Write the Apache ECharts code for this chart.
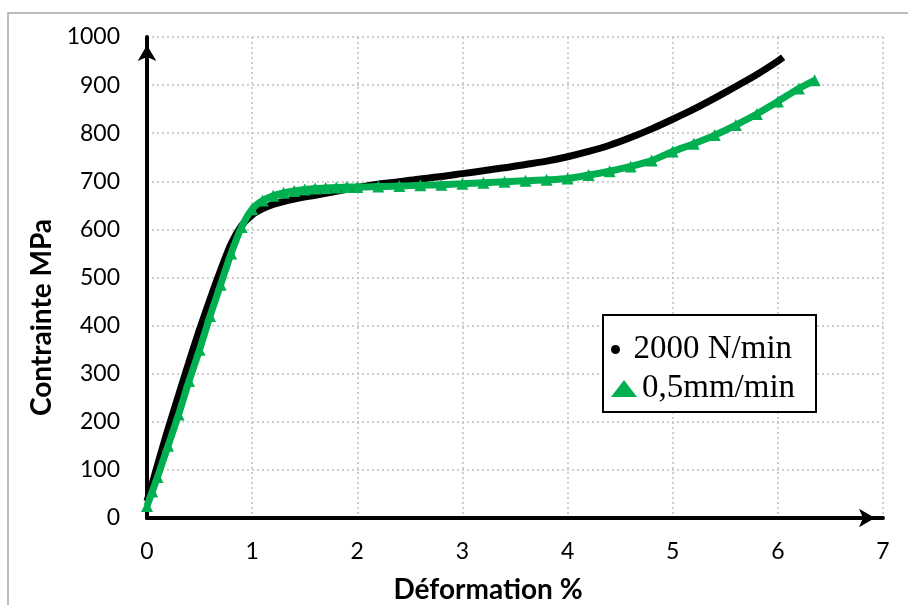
<!DOCTYPE html>
<html><head><meta charset="utf-8">
<script src="https://cdn.jsdelivr.net/npm/echarts@6/dist/echarts.min.js"></script>
<style>html,body{margin:0;padding:0;background:#fff}#c{width:908px;height:605px}</style>
</head><body><div id="c"></div>
<script>
const seriesNames = ['2000 N/min', '0,5mm/min'];
const xTitle = 'Déformation %';
const yTitle = 'Contrainte MPa';
const blackX = [0,0.05,0.1,0.2,0.3,0.4,0.5,0.6,0.7,0.8,0.9,1.0,1.1,1.2,1.4,1.6,1.8,2.0,2.2,2.4,2.6,2.8,3.0,3.2,3.4,3.6,3.8,4.0,4.2,4.4,4.6,4.8,5.0,5.2,5.4,5.6,5.8,6.0,6.05];
const blackY = [35,72,110,185,255,325,392,455,515,570,608,630,643,652,663,671,679,687,694,699,705,710,716,722,728,735,742,751,762,775,791,809,829,850,873,897,922,950,958];
const greenX = [0,0.05,0.1,0.2,0.3,0.4,0.5,0.6,0.7,0.8,0.9,1.0,1.1,1.2,1.3,1.4,1.5,1.6,1.7,1.8,1.9,2.0,2.2,2.4,2.6,2.8,3.0,3.2,3.4,3.6,3.8,4.0,4.2,4.4,4.6,4.8,5.0,5.2,5.4,5.6,5.8,6.0,6.2,6.35];
const greenY = [25,55,85,150,215,285,350,420,485,550,605,642,660,670,676,680,683,685,686,687,688,688,689,690,692,693,695,697,699,701,703,706,713,721,731,743,762,778,796,817,840,866,893,910];

const pair = (xs, ys) => xs.map((x, i) => [x, ys[i]]);
const chart = echarts.init(document.getElementById('c'));
const tickFont = {fontFamily: 'Lato', fontSize: 23, color: '#000'};
const titleFont = {fontFamily: 'Lato', fontSize: 28, fontWeight: 'bold', color: '#000'};
const legendText = {fontFamily: 'Liberation Serif', fontSize: 33, color: '#000'};
chart.setOption({
  backgroundColor: '#fff',
  animation: false,
  grid: {left: 147, right: 25, top: 37, bottom: 87, containLabel: false, outerBoundsMode: 'none'},
  graphic: [
    {type: 'rect', shape: {x: 8, y: 13, width: 920, height: 620}, style: {fill: 'none', stroke: '#a6a6a6', lineWidth: 1.5}, z: -10},
    {type: 'rect', shape: {x: 603, y: 315, width: 213, height: 97}, style: {fill: '#fff', stroke: '#000', lineWidth: 2}, z: 5}
  ],
  xAxis: {
    type: 'value', min: 0, max: 7, interval: 1,
    name: xTitle, nameLocation: 'middle', nameGap: 58, nameTextStyle: Object.assign({padding: [0, 54, 0, 0]}, titleFont),
    axisLine: {lineStyle: {color: '#000', width: 4}, symbol: ['none', 'arrow'], symbolSize: [14, 16], symbolOffset: [0, -8]},
    axisTick: {show: false},
    axisLabel: Object.assign({margin: 22, formatter: v => String(v)}, tickFont),
    splitLine: {show: true, lineStyle: {color: '#bfbfbf', type: [2, 3], width: 1.5}}
  },
  yAxis: {
    type: 'value', min: 0, max: 1000, interval: 100,
    name: yTitle, nameLocation: 'middle', nameGap: 80, nameTextStyle: Object.assign({padding: [0, 80, 0, 0]}, titleFont),
    axisLine: {show: true, lineStyle: {color: '#000', width: 4}, symbol: ['none', 'arrow'], symbolSize: [14, 16], symbolOffset: [0, -8]},
    axisTick: {show: false},
    axisLabel: Object.assign({margin: 27, formatter: v => String(v)}, tickFont),
    splitLine: {show: true, lineStyle: {color: '#bfbfbf', type: [2, 3], width: 1.5}}
  },
  legend: [
    {data: [{name: seriesNames[0], icon: 'circle'}], left: 606, top: 328, itemWidth: 26, itemHeight: 9, itemGap: 0, textStyle: legendText, z: 10, selectedMode: false},
    {data: [{name: seriesNames[1], icon: 'triangle'}], left: 606, top: 367, itemWidth: 26, itemHeight: 17, itemGap: 0, textStyle: legendText, z: 10, selectedMode: false}
  ],
  series: [
    {name: seriesNames[0], type: 'line', data: pair(blackX, blackY), smooth: 0.3, showSymbol: false,
     lineStyle: {color: '#000', width: 7}, itemStyle: {color: '#000'}, z: 2},
    {name: seriesNames[1], type: 'line', data: pair(greenX, greenY), smooth: 0.3, showSymbol: true, symbol: 'triangle', symbolSize: 12,
     lineStyle: {color: '#00b050', width: 7}, itemStyle: {color: '#00b050'}, z: 3}
  ]
});
</script></body></html>
